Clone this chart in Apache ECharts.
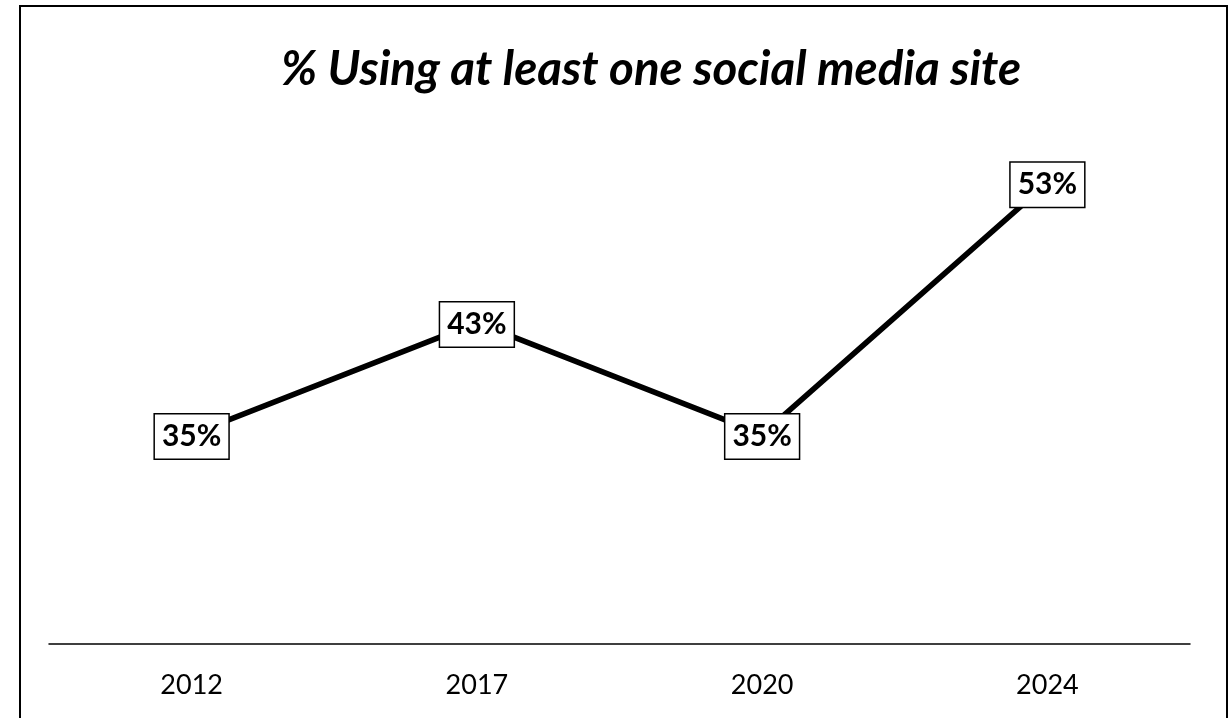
<!DOCTYPE html>
<html>
<head>
<meta charset="utf-8">
<script src="https://cdn.jsdelivr.net/npm/echarts@6/dist/echarts.min.js"></script>
<style>html,body{margin:0;padding:0;background:#fff}#c{width:1228px;height:718px}</style>
</head>
<body>
<div id="c"></div>
<script>
const titleText = '% Using at least one social media site';
const categories = ['2012', '2017', '2020', '2024'];
const values = [35, 43, 35, 53];

const chart = echarts.init(document.getElementById('c'), null, {renderer: 'canvas'});
chart.setOption({
  animation: false,
  backgroundColor: '#ffffff',
  title: {
    text: titleText,
    left: 646,
    textAlign: 'center',
    top: 41,
    textStyle: {fontFamily: 'Lato', fontSize: 47.5, fontWeight: 'bold', fontStyle: 'italic', color: '#000'}
  },
  graphic: [{
    type: 'rect', silent: true,
    shape: {x: 20, y: 6, width: 1207, height: 720},
    style: {fill: 'none', stroke: '#000', lineWidth: 2}
  }],
  grid: {left: 49, right: 38, top: 85, bottom: 74, containLabel: false},
  xAxis: {
    type: 'category',
    data: categories,
    boundaryGap: true,
    axisLine: {show: true, lineStyle: {color: '#000', width: 1.5}},
    axisTick: {show: false},
    axisLabel: {fontFamily: 'Lato', fontSize: 27, color: '#000', margin: 28}
  },
  yAxis: {
    type: 'value', min: 20, max: 60, show: false,
    splitLine: {show: false}
  },
  series: [{
    type: 'line',
    data: values,
    symbol: 'circle',
    symbolSize: 1,
    showSymbol: true,
    itemStyle: {color: '#000'},
    lineStyle: {color: '#000', width: 5.5},
    label: {
      show: true,
      position: 'inside',
      offset: [0, 2],
      formatter: '{c}%',
      fontFamily: 'Lato', fontSize: 30, fontWeight: 'bold', color: '#000',
      backgroundColor: '#fff',
      borderColor: '#000', borderWidth: 1.5,
      padding: [8, 7, 6, 7]
    }
  }]
});
</script>
</body>
</html>
